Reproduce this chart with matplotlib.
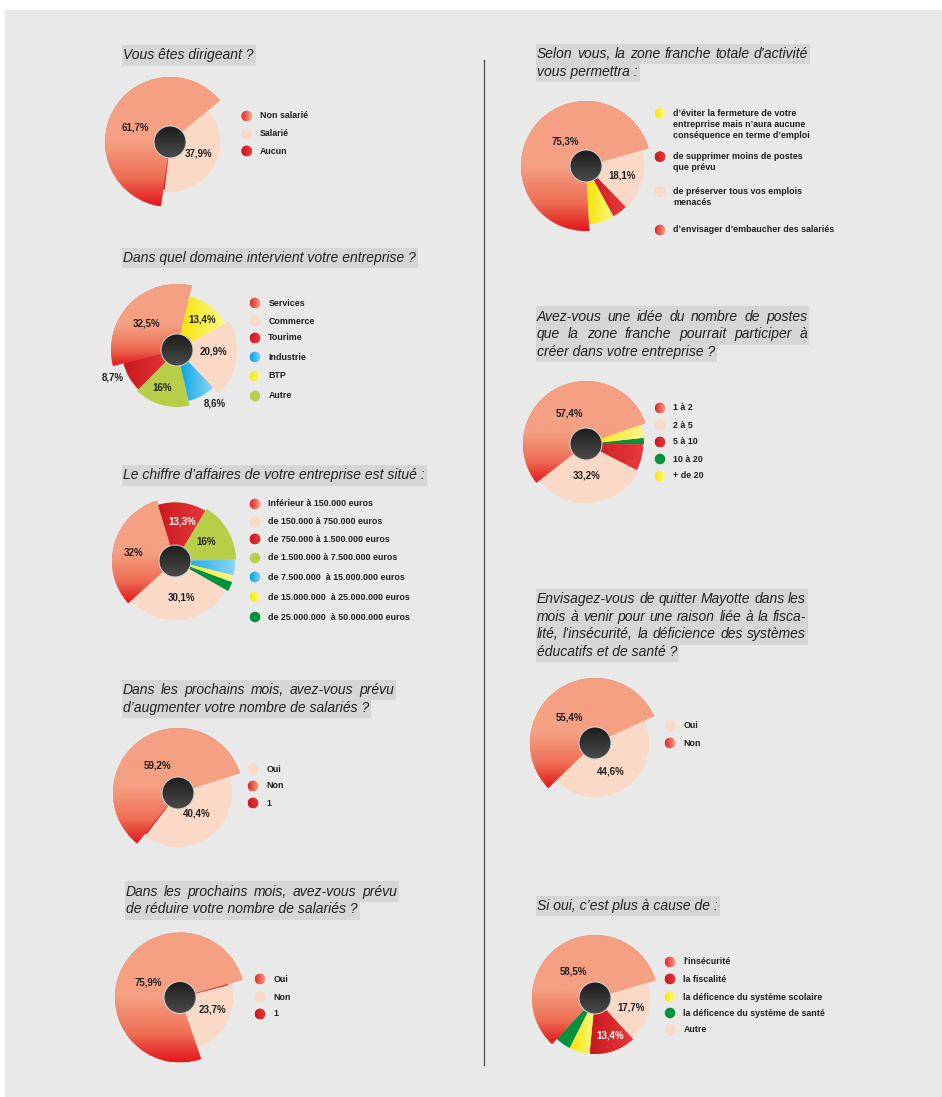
import numpy as np
import matplotlib
matplotlib.use("Agg")
import matplotlib.pyplot as plt
from matplotlib.patches import Rectangle, Circle
from matplotlib.colors import to_rgb

# ============================ DATA ============================
q1_title = ["Vous êtes dirigeant ?"]
q1_categories = ["Non salarié", "Salarié", "Aucun"]
q1_values = [61.7, 37.9, 0.4]

q2_title = ["Dans quel domaine intervient votre entreprise ?"]
q2_categories = ["Services", "Commerce", "Tourime", "Industrie", "BTP", "Autre"]
q2_values = [32.5, 20.9, 8.7, 8.6, 13.4, 16]

q3_title = ["Le chiffre d’affaires de votre entreprise est situé :"]
q3_categories = ["Inférieur à 150.000 euros", "de 150.000 à 750.000 euros",
                 "de 750.000 à 1.500.000 euros", "de 1.500.000 à 7.500.000 euros",
                 "de 7.500.000  à 15.000.000 euros", "de 15.000.000  à 25.000.000 euros",
                 "de 25.000.000  à 50.000.000 euros"]
q3_values = [32, 30.1, 13.3, 16, 4.2, 1.8, 2.6]

q4_title = ["Dans les prochains mois, avez-vous prévu",
            "d’augmenter votre nombre de salariés ?"]
q4_categories = ["Oui", "Non", "1"]
q4_values = [40.4, 59.2, 0.4]

q5_title = ["Dans les prochains mois, avez-vous prévu",
            "de réduire votre nombre de salariés ?"]
q5_categories = ["Oui", "Non", "1"]
q5_values = [75.9, 23.7, 0.4]

q6_title = ["Selon vous, la zone franche totale d’activité", "vous permettra :"]
q6_categories = ["d’éviter la fermeture de votre\nentreprrise mais n’aura aucune\nconséquence en terme d’emploi",
                 "de supprimer moins de postes\nque prévu",
                 "de préserver tous vos emplois\nmenacés",
                 "d’envisager d’embaucher des salariés"]
q6_values = [7.5, 4.5, 18.1, 75.3]

q7_title = ["Avez-vous une idée du nombre de postes",
            "que la zone franche pourrait participer à",
            "créer dans votre entreprise ?"]
q7_categories = ["1 à 2", "2 à 5", "5 à 10", "10 à 20", "+ de 20"]
q7_values = [57.4, 33.2, 7.7, 1.9, 3.8]

q8_title = ["Envisagez-vous de quitter Mayotte dans les",
            "mois à venir pour une raison liée à la fisca-",
            "lité, l’insécurité, la déficience des systèmes",
            "éducatifs et de santé ?"]
q8_categories = ["Oui", "Non"]
q8_values = [44.6, 55.4]

q9_title = ["Si oui, c’est plus à cause de :"]
q9_categories = ["l’insécurité", "la fiscalité", "la déficence du système scolaire",
                 "la déficence du système de santé", "Autre"]
q9_values = [58.5, 13.4, 5.9, 4.5, 17.7]

# ============================ STYLE ============================
FONT = "Liberation Sans"
W, H = 942, 1097
PANEL = "#E8E9E8"
BOX = "#D5D6D5"
TXT = "#231F20"

# slice fills: (orientation, colors, stops)
SLICE = {
    "salmon": ("v", ["#F5A083", "#F5A083", "#EE6F55", "#E3161B"], [0, 0.5, 0.78, 1]),
    "peach":  ("u", ["#FAD9C6"], [0]),
    "red":    ("h", ["#C9191F", "#E83A3C"], [0, 1]),
    "blue":   ("h", ["#009FE3", "#8AD6F6"], [0, 1]),
    "yellow": ("h", ["#F4E400", "#FFF68A"], [0, 1]),
    "green":  ("u", ["#00923F"], [0]),
    "lime":   ("u", ["#B7CE48"], [0]),
    "hub":    ("v", ["#1C1C1C", "#4C4C4C"], [0, 1]),
}
MARK = dict(SLICE)
MARK["salmon"] = ("h", ["#E3262A", "#F6A488"], [0, 1])
MARK["yellow"] = ("h", ["#F6E600", "#FFF8A0"], [0, 1])

charts = [
    dict(title=q1_title, cats=q1_categories, vals=q1_values,
         kinds=["salmon", "peach", "red"],
         title_xy=(123, 55.5), right=None,
         center=(170, 142), radii=[65, 50, 48], order=[0, 1, 2], start=262,
         labels={0: (-35, -14, TXT), 1: (29, 12, TXT)},
         leg_x=246.7, leg_rows=[116, 134, 151]),
    dict(title=q2_title, cats=q2_categories, vals=q2_values,
         kinds=["salmon", "peach", "red", "blue", "yellow", "lime"],
         title_xy=(123, 258), right=None,
         center=(177, 350), radii=[66, 60, 55, 52, 55, 57], order=[0, 4, 1, 3, 5, 2], start=194,
         labels={0: (-30, -27, TXT), 4: (25, -30, TXT), 1: (36, 1, TXT),
                 2: (-64, 28, TXT), 5: (-15, 38, TXT), 3: (38, 53, TXT)},
         leg_x=255, leg_rows=[303, 321, 338, 357, 376, 396]),
    dict(title=q3_title, cats=q3_categories, vals=q3_values,
         kinds=["salmon", "peach", "red", "lime", "blue", "yellow", "green"],
         title_xy=(123, 475.5), right=None,
         center=(175, 561), radii=[63, 59, 58.5, 61, 60, 59, 61], order=[0, 2, 3, 4, 5, 6, 1], start=222,
         labels={0: (-41, -8, TXT), 2: (7, -40, "white"), 3: (31, -19, TXT), 1: (6, 36, TXT)},
         leg_x=255, leg_rows=[504, 522, 539, 558, 577, 597, 617]),
    dict(title=q4_title, cats=q4_categories, vals=q4_values,
         kinds=["peach", "salmon", "red"],
         title_xy=(123, 690), right=394,
         center=(178, 793), radii=[54, 65, 52], order=[1, 0, 2], start=231,
         labels={1: (-21, -27, TXT), 0: (19, 21, TXT)},
         leg_x=253, leg_rows=[769, 786, 803]),
    dict(title=q5_title, cats=q5_categories, vals=q5_values,
         kinds=["salmon", "peach", "red"],
         title_xy=(126, 891.7), right=397,
         center=(180, 997.5), radii=[65, 53, 50], order=[0, 2, 1], start=289,
         labels={0: (-32, -15, TXT), 1: (32, 12.5, TXT)},
         leg_x=260, leg_rows=[979, 997, 1014]),
    dict(title=q6_title, cats=q6_categories, vals=q6_values,
         kinds=["yellow", "red", "peach", "salmon"],
         title_xy=(537, 54), right=808,
         center=(586, 166), radii=[58, 57, 58, 65], order=[3, 2, 1, 0], start=273,
         labels={3: (-21, -25, TXT), 2: (36, 9, TXT)},
         leg_x=660, leg_rows=[113.3, 156.7, 191.7, 230]),
    dict(title=q7_title, cats=q7_categories, vals=q7_values,
         kinds=["salmon", "peach", "red", "green", "yellow"],
         title_xy=(537, 316.7), right=807,
         center=(586, 444), radii=[63, 59, 57, 58, 58], order=[0, 4, 3, 2, 1], start=218,
         labels={0: (-17, -31, TXT), 1: (1, 32, TXT)},
         leg_x=660, leg_rows=[408, 425, 442, 459, 476]),
    dict(title=q8_title, cats=q8_categories, vals=q8_values,
         kinds=["peach", "salmon"],
         title_xy=(537, 599), right=806,
         center=(595, 743), radii=[54, 65], order=[1, 0], start=224,
         labels={1: (-26, -25, TXT), 0: (16, 28, TXT)},
         leg_x=670, leg_rows=[726, 743]),
    dict(title=q9_title, cats=q9_categories, vals=q9_values,
         kinds=["salmon", "red", "yellow", "green", "peach"],
         title_xy=(537, 906), right=None,
         center=(595, 998), radii=[63, 56, 56, 56, 55], order=[0, 4, 1, 2, 3], start=227,
         labels={0: (-22, -27, TXT), 4: (36, 10, TXT), 1: (15, 38, "white")},
         leg_x=670, leg_rows=[962, 979, 997, 1013, 1030]),
]

# ============================ DRAWING ============================
def Y(y):
    return H - y


fig = plt.figure(figsize=(W / 100, H / 100), dpi=100)
fig.patch.set_facecolor("white")
ax = fig.add_axes([0, 0, 1, 1])
ax.set_xlim(0, W)
ax.set_ylim(0, H)
ax.axis("off")
renderer = fig.canvas.get_renderer()

ax.add_patch(Rectangle((5, 0), W - 5, H - 10, facecolor=PANEL, edgecolor="none", zorder=0))
ax.plot([484, 484], [Y(60), Y(1065)], color="#4A4A4A", lw=0.9, zorder=1)


def make_img(spec, n=256):
    orient, cols, stops = spec
    t = np.linspace(0, 1, n)
    c = np.array([to_rgb(x) for x in cols])
    rgb = np.stack([np.interp(t, stops, c[:, k]) for k in range(3)], axis=-1)
    if orient == "h":
        return np.repeat(rgb[None, :, :], 2, axis=0)
    return np.repeat(rgb[::-1][:, None, :], 2, axis=1)


def paint(patch, spec, z):
    orient, cols, stops = spec
    patch.set_facecolor(cols[len(cols) // 2] if orient != "u" else cols[0])
    patch.set_edgecolor("none")
    patch.set_zorder(z)
    if orient == "u":
        return
    ext = patch.get_path().transformed(patch.get_patch_transform()).get_extents()
    im = ax.imshow(make_img(spec), extent=[ext.x0, ext.x1, ext.y0, ext.y1], origin="lower",
                   interpolation="bilinear", aspect="auto", zorder=z + 0.05)
    im.set_clip_path(patch)


def pct(v):
    return f"{v:g}".replace(".", ",") + "%"


def draw_title(lines, x, y0, right, step=17.6):
    for k, line in enumerate(lines):
        yc = y0 + k * step
        last = k == len(lines) - 1
        kw = dict(fontsize=10.0, fontstyle="italic", family=FONT, color=TXT, va="center", ha="left", zorder=3)
        if right is not None and not last:
            words = line.split(" ")
            texts = [ax.text(0, Y(yc), w_, **kw) for w_ in words]
            widths = [t.get_window_extent(renderer).width for t in texts]
            gap = (right - x - sum(widths)) / (len(words) - 1)
            pos = x
            for t, wd in zip(texts, widths):
                t.set_x(pos)
                pos += wd + gap
            end = right
        else:
            t = ax.text(x, Y(yc), line, **kw)
            end = x + t.get_window_extent(renderer).width
        ax.add_patch(Rectangle((x - 1.5, Y(yc + 10.3)), end - x + 3.5, 20.6,
                               facecolor=BOX, edgecolor="none", zorder=0.5))


for ch in charts:
    cx, cy = ch["center"]
    vals = [ch["vals"][i] for i in ch["order"]]
    wedges, _ = ax.pie(vals, startangle=ch["start"], counterclock=False,
                       center=(cx, Y(cy)), radius=1, wedgeprops=dict(linewidth=0))
    for w_, i in zip(wedges, ch["order"]):
        w_.set_radius(ch["radii"][i])
        paint(w_, SLICE[ch["kinds"][i]], 2)

    hub = Circle((cx, Y(cy)), 16)
    ax.add_patch(hub)
    paint(hub, SLICE["hub"], 4)
    ax.add_patch(Circle((cx, Y(cy)), 16, facecolor="none", edgecolor="#D8D8D8", lw=0.7, zorder=4.2))

    for i, (dx, dy, col) in ch["labels"].items():
        ax.text(cx + dx, Y(cy + dy), pct(ch["vals"][i]), fontsize=7.0, fontweight="bold",
                family=FONT, color=col, ha="center", va="center", zorder=5)

    for cat, kind, ry in zip(ch["cats"], ch["kinds"], ch["leg_rows"]):
        m = Circle((ch["leg_x"], Y(ry)), 5.3)
        ax.add_patch(m)
        paint(m, MARK[kind], 3)
        for k, line in enumerate(cat.split("\n")):
            ax.text(ch["leg_x"] + 13.3, Y(ry + 11 * k), line, fontsize=6.4, fontweight="bold",
                    family=FONT, color=TXT, ha="left", va="center", zorder=5)

    tx, ty = ch["title_xy"]
    draw_title(ch["title"], tx, ty, ch["right"])

ax.set_xlim(0, W)
ax.set_ylim(0, H)
ax.set_aspect("auto")
fig.savefig("out.png", dpi=100, facecolor="white")
